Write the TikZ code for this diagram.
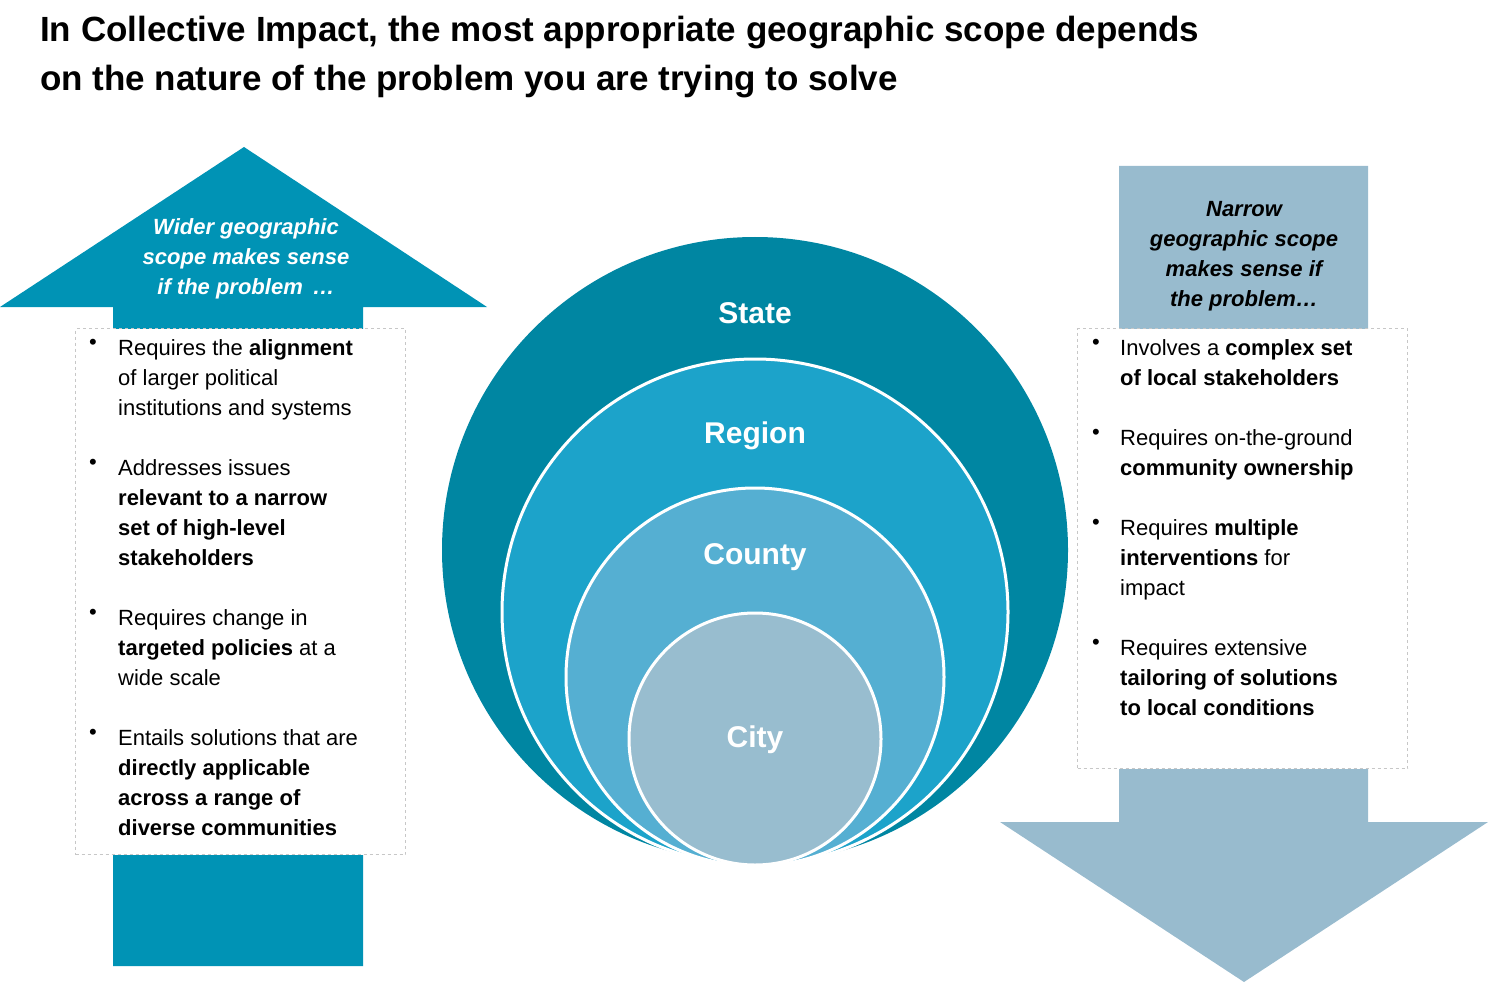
\documentclass[tikz,border=0pt]{standalone}
\usepackage{fontspec}
\setmainfont{Liberation Sans}
\definecolor{cstate}{HTML}{0086A2}
\definecolor{cregion}{HTML}{1CA3CA}
\definecolor{ccounty}{HTML}{55AFD2}
\definecolor{ccity}{HTML}{98BDCF}
\definecolor{larrow}{HTML}{0093B5}
\definecolor{rarrow}{HTML}{98BBCE}
\begin{document}
\begin{tikzpicture}[x=1pt,y=-1pt,
  body/.style={anchor=north west,align=left,inner sep=0pt,font=\fontsize{22}{30}\selectfont},
  bul/.style={anchor=north,inner sep=0pt,font=\fontsize{22}{30}\selectfont},
  clab/.style={text=white,font=\bfseries\fontsize{30}{34}\selectfont},
  ring/.style={draw=white,line width=3pt},
  dbox/.style={draw=black!22,dashed,fill=white,line width=1pt}]
\useasboundingbox (0,0) rectangle (1488,984);
\node[anchor=north west,align=left,inner sep=0pt,font=\bfseries\fontsize{35}{49}\selectfont] (title) at (40,16)
 {In Collective Impact, the most appropriate geographic scope depends\\on the nature of the problem you are trying to solve};
% left arrow
\fill[larrow] (244,147) -- (487,307) -- (363,307) -- (363,966) -- (113,966) -- (113,307) -- (0,307) -- cycle;
\node[dbox,minimum width=330,minimum height=526,anchor=north west] (lbox) at (75,328) {};
\node[align=center,text=white,font=\bfseries\itshape\fontsize{22}{30}\selectfont] (ltxt) at (246,259)
 {Wider geographic\\scope makes sense\\if the problem \,\dots};
% right arrow
\fill[rarrow] (1119,166) -- (1368,166) -- (1368,822) -- (1488,822) -- (1244,982) -- (1000,822) -- (1119,822) -- cycle;
\node[dbox,minimum width=330,minimum height=440,anchor=north west] (rbox) at (1077,328) {};
\node[align=center,font=\bfseries\itshape\fontsize{22}{30}\selectfont] (rtxt) at (1244,256)
 {Narrow\\geographic scope\\makes sense if\\the problem\dots};
% circles
\fill[cstate] (755,550) circle (313);
\filldraw[fill=cregion,ring] (755,612) circle (253);
\filldraw[fill=ccounty,ring] (755,677) circle (189);
\filldraw[fill=ccity,ring] (755,739) circle (126);
\node[clab] (st) at (755,313) {State};
\node[clab] (rg) at (755,436) {Region};
\node[clab] (ct) at (755,557) {County};
\node[clab] (cy) at (755,740) {City};
% left bullets
\foreach \y/\t [count=\i] in {
 339/{Requires the \textbf{alignment}\\of larger political\\institutions and systems},
 459/{Addresses issues\\\textbf{relevant to a narrow}\\\textbf{set of high-level}\\\textbf{stakeholders}},
 609/{Requires change in\\\textbf{targeted policies} at a\\wide scale},
 729/{Entails solutions that are\\\textbf{directly applicable}\\\textbf{across a range of}\\\textbf{diverse communities}}}{
 \node[bul] (lb\i) at (93,\y) {•};
 \node[body] (lt\i) at (118,\y) {\t};
}
\foreach \y/\t [count=\i] in {
 339/{Involves a \textbf{complex set}\\\textbf{of local stakeholders}},
 429/{Requires on-the-ground\\\textbf{community ownership}},
 519/{Requires \textbf{multiple}\\\textbf{interventions} for\\impact},
 639/{Requires extensive\\\textbf{tailoring of solutions}\\\textbf{to local conditions}}}{
 \node[bul] (rb\i) at (1096,\y) {•};
 \node[body] (rt\i) at (1120,\y) {\t};
}
\end{tikzpicture}
\end{document}
